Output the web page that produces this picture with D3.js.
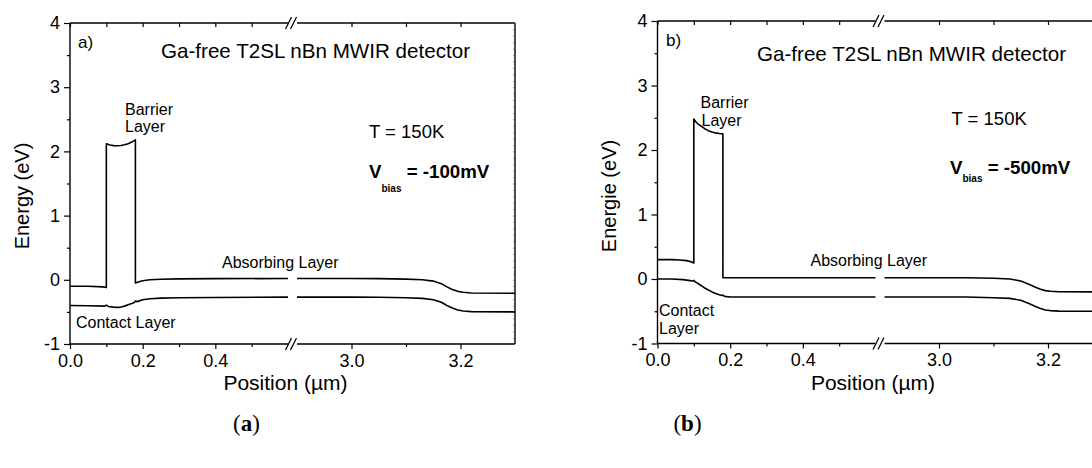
<!DOCTYPE html>
<html><head><meta charset="utf-8">
<script src="https://cdn.jsdelivr.net/npm/d3@7"></script>
<style>
body{margin:0;background:#fff}
text{font-family:Arial,"Liberation Sans",sans-serif;fill:#000}
</style>
</head><body>
<svg id="c" width="1092" height="468"></svg>
<script>
// ---------- data ----------
const xBreakDomain = [0, 0.6, 2.9, 3.3];
const yTicks = [-1, 0, 1, 2, 3, 4];
const yMinorTicks = [-0.5, 0.5, 1.5, 2.5, 3.5];
const xMajorTicks = [0.0, 0.2, 0.4, 3.0, 3.2];
const xMinorTicks = [0.1, 0.3, 0.5, 3.1];

// panel a: V = -100 mV
const cbA_x = [0, 0.05, 0.09, 0.1, 0.1, 0.11, 0.12, 0.13, 0.14, 0.15, 0.16, 0.17, 0.18, 0.18, 0.19, 0.2, 0.22, 0.25, 0.3, 0.4, 0.6,
               2.9, 3.0, 3.05, 3.1, 3.13, 3.15, 3.165, 3.175, 3.185, 3.195, 3.205, 3.22, 3.3];
const cbA_E = [-0.10, -0.10, -0.11, -0.12, 2.12, 2.10, 2.09, 2.088, 2.093, 2.103, 2.12, 2.145, 2.18, -0.05, -0.03, -0.015, 0.0, 0.008, 0.014, 0.018, 0.02,
               0.02, 0.02, 0.018, 0.01, 0.0, -0.02, -0.06, -0.11, -0.15, -0.18, -0.195, -0.205, -0.21];
const vbA_x = [0, 0.05, 0.095, 0.1, 0.105, 0.12, 0.13, 0.14, 0.15, 0.16, 0.17, 0.177, 0.18, 0.185, 0.2, 0.22, 0.25, 0.3, 0.4, 0.6,
               2.9, 3.0, 3.05, 3.1, 3.13, 3.15, 3.165, 3.175, 3.185, 3.195, 3.205, 3.22, 3.3];
const vbA_E = [-0.40, -0.405, -0.41, -0.395, -0.415, -0.425, -0.43, -0.425, -0.41, -0.39, -0.37, -0.355, -0.33, -0.34, -0.31, -0.295, -0.285, -0.28, -0.275, -0.27,
               -0.27, -0.27, -0.272, -0.28, -0.29, -0.31, -0.35, -0.40, -0.44, -0.47, -0.485, -0.495, -0.50];

// panel b: V = -500 mV
const cbB_x = [0, 0.04, 0.06, 0.08, 0.09, 0.1, 0.1, 0.105, 0.11, 0.12, 0.13, 0.14, 0.15, 0.16, 0.17, 0.18, 0.18, 0.3, 0.6,
               2.9, 3.05, 3.1, 3.13, 3.15, 3.165, 3.175, 3.185, 3.195, 3.205, 3.22, 3.3];
const cbB_E = [0.30, 0.30, 0.295, 0.285, 0.27, 0.25, 2.48, 2.44, 2.41, 2.37, 2.33, 2.30, 2.28, 2.265, 2.255, 2.25, 0.02, 0.02, 0.02,
               0.02, 0.02, 0.012, 0.0, -0.03, -0.08, -0.12, -0.155, -0.18, -0.19, -0.198, -0.20];
const vbB_x = [0, 0.04, 0.07, 0.09, 0.097, 0.1, 0.103, 0.11, 0.12, 0.13, 0.14, 0.15, 0.16, 0.17, 0.177, 0.18, 0.185, 0.2, 0.6,
               2.9, 3.05, 3.1, 3.13, 3.15, 3.165, 3.175, 3.185, 3.195, 3.205, 3.22, 3.3];
const vbB_E = [0.0, 0.0, -0.01, -0.025, -0.03, -0.022, -0.04, -0.065, -0.10, -0.14, -0.17, -0.20, -0.225, -0.245, -0.255, -0.25, -0.27, -0.28, -0.28,
               -0.28, -0.28, -0.29, -0.30, -0.33, -0.38, -0.42, -0.455, -0.48, -0.49, -0.498, -0.50];

// ---------- layout ----------
const svg = d3.select("#c");
const panels = [
  {L: 70, T: 23, B: 344, cb: [cbA_x, cbA_E], vb: [vbA_x, vbA_E], right: true,
   ylab: "Energy (eV)", ylabX: 29, tag: "a)", bias: "-100mV", caption: "a", capX: 246.5,
   txt: {tag:[78,48], title:[161,58], bar1:[125,115], bar2:[125,131.5], T:[369,138], V:[369,178], sub:13.5,
         abs:[222,268], con:[[76,327.5,"Contact Layer"]]}},
  {L: 657.5, T: 21, B: 343.5, cb: [cbB_x, cbB_E], vb: [vbB_x, vbB_E], right: false,
   ylab: "Energie (eV)", ylabX: 616, tag: "b)", bias: "-500mV", caption: "b", capX: 687.5,
   txt: {tag:[666,46], title:[757,61], bar1:[700.5,108], bar2:[701.5,126], T:[951.5,125], V:[950,174.3], sub:7.5,
         abs:[810.5,266], con:[[659,316,"Contact"],[659,333.5,"Layer"]]}}
];

panels.forEach(p => {
  const R = p.L + 445;
  const x = d3.scaleLinear().domain(xBreakDomain).range([p.L, p.L + 218, p.L + 227, R]);
  const y = d3.scaleLinear().domain([-1, 4]).range([p.B, p.T]);
  const g = svg.append("g");
  const gapL = x(0.6), gapR = x(2.9), bx = (gapL + gapR) / 2;

  // left axis
  const ax = g.append("g").attr("transform", `translate(${p.L},0)`);
  ax.call(d3.axisLeft(y).tickValues(yTicks).tickSize(6).tickPadding(4).tickFormat(d => String(d)));
  ax.append("g").call(d3.axisLeft(y).tickValues(yMinorTicks).tickSize(3).tickFormat(""));
  ax.selectAll(".domain").remove();
  ax.selectAll("text").style("font-size", "18px").style("font-family", "Arial, 'Liberation Sans', sans-serif");
  g.append("line").attr("x1", p.L).attr("x2", p.L).attr("y1", p.T).attr("y2", p.B).attr("stroke", "#000").attr("stroke-width", 1.4);

  // bottom axis
  const bxA = g.append("g").attr("transform", `translate(0,${p.B})`);
  bxA.call(d3.axisBottom(x).tickValues(xMajorTicks).tickSize(5).tickPadding(5).tickFormat(d => d.toFixed(1)));
  bxA.append("g").call(d3.axisBottom(x).tickValues(xMinorTicks).tickSize(3).tickFormat(""));
  bxA.selectAll(".domain").remove();
  bxA.selectAll("text").style("font-size", "18px").style("font-family", "Arial, 'Liberation Sans', sans-serif");

  // top axis
  const tx = g.append("g").attr("transform", `translate(0,${p.T})`);
  tx.call(d3.axisTop(x).tickValues(xMajorTicks.concat(xMinorTicks)).tickSize(-4).tickFormat(""));
  tx.selectAll(".domain").remove();

  // axis lines with break
  [p.B, p.T].forEach(yy => {
    g.append("line").attr("x1", p.L).attr("x2", gapL).attr("y1", yy).attr("y2", yy).attr("stroke", "#000").attr("stroke-width", 1.4);
    g.append("line").attr("x1", gapR).attr("x2", R).attr("y1", yy).attr("y2", yy).attr("stroke", "#000").attr("stroke-width", 1.4);
    [-4, 1].forEach(o => g.append("line").attr("x1", bx + o - 3).attr("y1", yy + 6).attr("x2", bx + o + 3).attr("y2", yy - 6)
      .attr("stroke", "#000").attr("stroke-width", 1.2));
  });
  g.selectAll(".tick line").attr("stroke-width", 1.2);

  if (p.right) {
    g.append("line").attr("x1", R).attr("x2", R).attr("y1", p.T).attr("y2", p.B).attr("stroke", "#000").attr("stroke-width", 1.4);
    const ra = g.append("g").attr("transform", `translate(${R},0)`);
    ra.call(d3.axisRight(y).tickValues(d3.range(-10, 41).map(v => v / 10)).tickSize(-2).tickFormat(""));
    ra.selectAll(".domain").remove();
    ra.selectAll(".tick line").attr("stroke-width", 0.6).attr("stroke", "#555");
  }

  // curves (split at axis break)
  const line = d3.line().x(d => x(d[0])).y(d => y(d[1]));
  [p.cb, p.vb].forEach(([xs, es]) => {
    const pts = xs.map((v, i) => [v, es[i]]);
    [pts.filter(d => d[0] <= 0.6), pts.filter(d => d[0] >= 2.9)].forEach(seg => {
      g.append("path").attr("d", line(seg)).attr("fill", "none").attr("stroke", "#000")
        .attr("stroke-width", 1.6).attr("stroke-linejoin", "round");
    });
  });

  // axis titles
  g.append("text").attr("transform", `translate(${p.ylabX},196) rotate(-90)`).attr("text-anchor", "middle")
    .style("font-size", "20px").text(p.ylab);
  g.append("text").attr("x", (p.L + R) / 2 - 7).attr("y", 390).attr("text-anchor", "middle")
    .style("font-size", "21px").text("Position (µm)");

  // annotations
  const t = p.txt;
  const txt = (pos, s, size) => g.append("text").attr("x", pos[0]).attr("y", pos[1]).style("font-size", size + "px").text(s);
  txt(t.tag, p.tag, 17);
  txt(t.title, "Ga-free T2SL nBn MWIR detector", 20.6);
  txt(t.bar1, "Barrier", 16);
  txt(t.bar2, "Layer", 16);
  txt(t.T, "T = 150K", 18.5);
  const v = g.append("text").attr("x", t.V[0]).attr("y", t.V[1]).style("font-size", "18.7px").style("font-weight", "bold");
  v.append("tspan").text("V");
  v.append("tspan").attr("dy", t.sub).style("font-size", "10px").text("bias");
  v.append("tspan").attr("dy", -t.sub).text(" = " + p.bias);
  txt(t.abs, "Absorbing Layer", 16);
  t.con.forEach(c => txt([c[0], c[1]], c[2], 16));

  // caption
  const cap = svg.append("text").attr("x", p.capX).attr("y", 431).attr("text-anchor", "middle")
    .style("font-family", "'Liberation Serif', 'DejaVu Serif', serif").style("font-size", "23px");
  cap.append("tspan").text("(");
  cap.append("tspan").style("font-weight", "bold").text(p.caption);
  cap.append("tspan").text(")");
});
</script>
</body></html>
